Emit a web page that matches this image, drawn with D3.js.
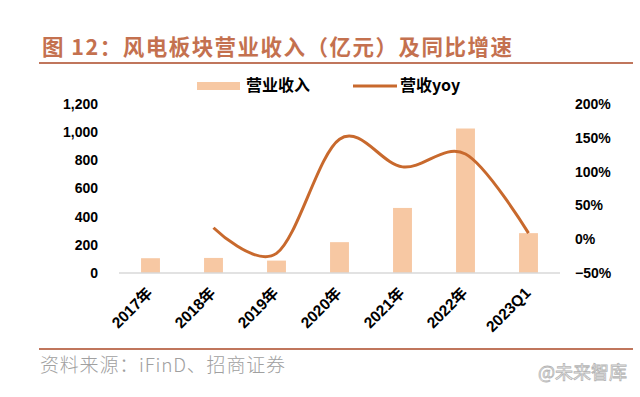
<!DOCTYPE html>
<html lang="zh">
<head>
<meta charset="UTF-8" />
<script src="https://d3js.org/d3.v7.min.js"></script>
<style>
  html, body { margin: 0; padding: 0; background: #fff; }
  svg text { font-family: "Liberation Sans", Arial, "Noto Sans CJK SC", sans-serif; }
</style>
<title>风电板块营业收入</title>
</head>
<body>
<div id="chart"></div>
<script>
// data
var categories = ["2017年", "2018年", "2019年", "2020年", "2021年", "2022年", "2023Q1"];
var revenue = [105, 107, 88, 219, 462, 1026, 283];           // 亿元
var yoy = [null, 0.17, -0.21, 1.48, 1.07, 1.26, 0.09];       // 同比
var leftTicks = [0, 200, 400, 600, 800, 1000, 1200];
var rightTicks = [-0.5, 0, 0.5, 1, 1.5, 2];

var W = 640, H = 397;

var svg = d3.select("#chart").append("svg")
  .attr("width", W).attr("height", H);
svg.append("rect").attr("width", W).attr("height", H).attr("fill", "#fff");

// title + rules
svg.append("text")
  .attr("x", 42).attr("y", 55)
  .attr("textLength", 470).attr("lengthAdjust", "spacing")
  .style("font-family", "'Noto Sans CJK SC', sans-serif")
  .style("font-weight", 700)
  .style("font-size", "21.5px")
  .attr("fill", "#c4714f")
  .text("图 12：风电板块营业收入（亿元）及同比增速");
svg.append("line").attr("x1", 39).attr("x2", 633).attr("y1", 63).attr("y2", 63)
  .attr("stroke", "#c0765c").attr("stroke-width", 2);
svg.append("line").attr("x1", 39).attr("x2", 633).attr("y1", 349).attr("y2", 349)
  .attr("stroke", "#c0765c").attr("stroke-width", 2);

svg.append("text")
  .attr("x", 40).attr("y", 372)
  .attr("textLength", 245).attr("lengthAdjust", "spacing")
  .style("font-family", "'Noto Sans CJK SC', sans-serif")
  .style("font-weight", 300)
  .style("font-size", "19px")
  .attr("fill", "#a0a0a0")
  .text("资料来源：iFinD、招商证券");

svg.append("text")
  .attr("x", 627).attr("y", 379)
  .attr("text-anchor", "end")
  .style("font-family", "'Noto Sans CJK SC', sans-serif")
  .style("font-size", "18px")
  .attr("fill", "#fff").attr("stroke", "#b5b5b5").attr("stroke-width", 0.8)
  .text("@未来智库");

// scales
var x = d3.scaleBand().domain(categories).range([119, 560]).paddingInner(0).paddingOuter(0);
var yL = d3.scaleLinear().domain([0, 1200]).range([273, 104]);
var yR = d3.scaleLinear().domain([-0.5, 2]).range([273, 104]);
var barW = x.bandwidth() * 0.3;

// bars
svg.append("g").selectAll("rect").data(revenue).enter().append("rect")
  .attr("x", function (d, i) { return x(categories[i]) + x.bandwidth() / 2 - barW / 2; })
  .attr("y", function (d) { return yL(d); })
  .attr("width", barW)
  .attr("height", function (d) { return yL(0) - yL(d); })
  .attr("fill", "#f7c8a3");

// category axis line
svg.append("line").attr("x1", 119).attr("x2", 560).attr("y1", yL(0)).attr("y2", yL(0))
  .attr("stroke", "#d9d9d9").attr("stroke-width", 1.5);

// yoy line
var pts = yoy.map(function (v, i) { return { c: categories[i], v: v }; })
  .filter(function (d) { return d.v !== null; });
var line = d3.line()
  .x(function (d) { return x(d.c) + x.bandwidth() / 2; })
  .y(function (d) { return yR(d.v); })
  .curve(d3.curveCardinal.tension(0));
svg.append("path").datum(pts)
  .attr("d", line)
  .attr("fill", "none")
  .attr("stroke", "#c8692d")
  .attr("stroke-width", 3);

// left axis
var axL = d3.axisLeft(yL).tickValues(leftTicks).tickFormat(d3.format(",")).tickSize(0).tickPadding(0);
var gL = svg.append("g").attr("transform", "translate(98,0)").call(axL);
gL.select(".domain").remove();
gL.selectAll("text").style("font-size", "14px").style("font-weight", 700)
  .style("font-family", "'Liberation Sans', Arial, sans-serif").attr("fill", "#000");

// right axis
var axR = d3.axisRight(yR).tickValues(rightTicks).tickFormat(d3.format(".0%")).tickSize(0).tickPadding(0);
var gR = svg.append("g").attr("transform", "translate(575,0)").call(axR);
gR.select(".domain").remove();
gR.selectAll("text").style("font-size", "14px").style("font-weight", 700)
  .style("font-family", "'Liberation Sans', Arial, sans-serif").attr("fill", "#000");

// x labels, rotated
svg.append("g").selectAll("text").data(categories).enter().append("text")
  .attr("transform", function (d) {
    return "translate(" + (x(d) + x.bandwidth() / 2 + 3) + ",294) rotate(-45)";
  })
  .attr("text-anchor", "end")
  .style("font-size", "15.5px").style("font-weight", 700)
  .style("font-family", "'Liberation Sans', 'Noto Sans CJK SC', sans-serif")
  .attr("fill", "#000")
  .text(function (d) { return d; });

// legend
var lg = svg.append("g");
lg.append("rect").attr("x", 197).attr("y", 82).attr("width", 43).attr("height", 8).attr("fill", "#f7c8a3");
lg.append("text").attr("x", 246).attr("y", 91)
  .style("font-family", "'Noto Sans CJK SC', sans-serif").style("font-weight", 700).style("font-size", "16px")
  .text("营业收入");
lg.append("line").attr("x1", 353).attr("x2", 397).attr("y1", 86).attr("y2", 86)
  .attr("stroke", "#c8692d").attr("stroke-width", 3);
lg.append("text").attr("x", 400).attr("y", 91)
  .style("font-family", "'Noto Sans CJK SC', sans-serif").style("font-weight", 700).style("font-size", "16px")
  .text("营收yoy");
</script>
</body>
</html>
